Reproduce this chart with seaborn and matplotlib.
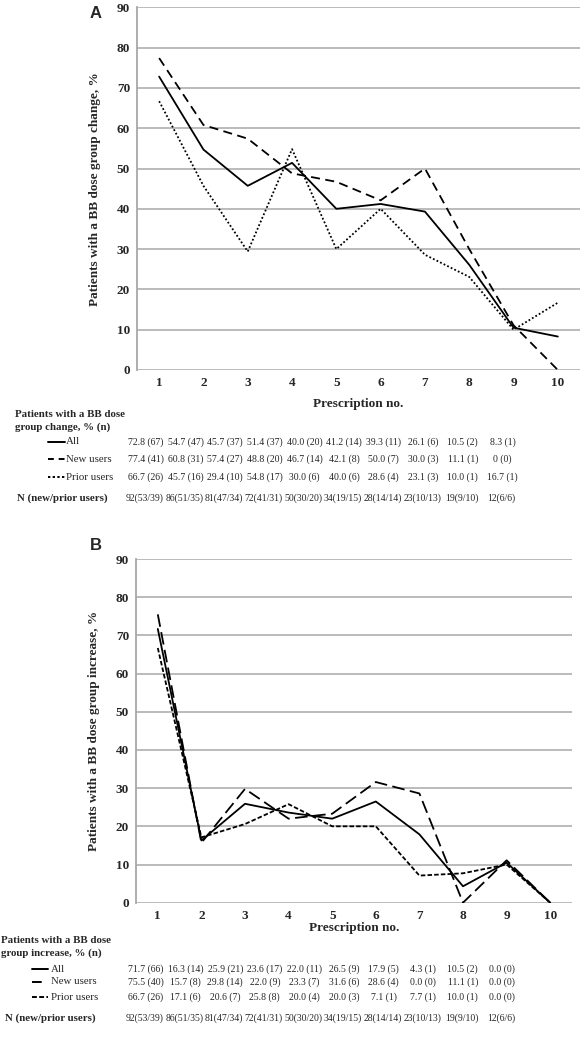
import matplotlib
matplotlib.use("Agg")
import matplotlib.pyplot as plt
from matplotlib.lines import Line2D
import pandas as pd
import seaborn as sns

# prescription numbers
rx = list(range(1, 11))
groups = ["All", "New users", "Prior users"]

# panel A: BB dose group change, %
a_all = [72.8, 54.7, 45.7, 51.4, 40.0, 41.2, 39.3, 26.1, 10.5, 8.3]
a_new = [77.4, 60.8, 57.4, 48.8, 46.7, 42.1, 50.0, 30.0, 11.1, 0.0]
a_prior = [66.7, 45.7, 29.4, 54.8, 30.0, 40.0, 28.6, 23.1, 10.0, 16.7]

# panel B: BB dose group increase, %
b_all = [71.7, 16.3, 25.9, 23.6, 22.0, 26.5, 17.9, 4.3, 10.5, 0.0]
b_new = [75.5, 15.7, 29.8, 22.0, 23.3, 31.6, 28.6, 0.0, 11.1, 0.0]
b_prior = [66.7, 17.1, 20.6, 25.8, 20.0, 20.0, 7.1, 7.7, 10.0, 0.0]

# table texts below each panel
a_all_txt = ["72.8 (67)", "54.7 (47)", "45.7 (37)", "51.4 (37)", "40.0 (20)",
             "41.2 (14)", "39.3 (11)", "26.1 (6)", "10.5 (2)", "8.3 (1)"]
a_new_txt = ["77.4 (41)", "60.8 (31)", "57.4 (27)", "48.8 (20)", "46.7 (14)",
             "42.1 (8)", "50.0 (7)", "30.0 (3)", "11.1 (1)", "0 (0)"]
a_prior_txt = ["66.7 (26)", "45.7 (16)", "29.4 (10)", "54.8 (17)", "30.0 (6)",
               "40.0 (6)", "28.6 (4)", "23.1 (3)", "10.0 (1)", "16.7 (1)"]
b_all_txt = ["71.7 (66)", "16.3 (14)", "25.9 (21)", "23.6 (17)", "22.0 (11)",
             "26.5 (9)", "17.9 (5)", "4.3 (1)", "10.5 (2)", "0.0 (0)"]
b_new_txt = ["75.5 (40)", "15.7 (8)", "29.8 (14)", "22.0 (9)", "23.3 (7)",
             "31.6 (6)", "28.6 (4)", "0.0 (0)", "11.1 (1)", "0.0 (0)"]
b_prior_txt = ["66.7 (26)", "17.1 (6)", "20.6 (7)", "25.8 (8)", "20.0 (4)",
               "20.0 (3)", "7.1 (1)", "7.7 (1)", "10.0 (1)", "0.0 (0)"]
n_txt = ["92(53/39)", "86(51/35)", "81(47/34)", "72(41/31)", "50(30/20)",
         "34(19/15)", "28(14/14)", "23(10/13)", "19(9/10)", "12(6/6)"]

W, H = 583, 1039
SERIF = ["Liberation Serif", "DejaVu Serif"]

sns.set_style("white")
plt.rcParams["font.family"] = SERIF
plt.rcParams["font.weight"] = "bold"


def fx(px):
    return px / W


def fy(py):
    return 1 - py / H


def draw_panel(ax, all_v, new_v, prior_v, dashes, ylabel, xlab_y, ylab_x):
    df = pd.DataFrame({
        "rx": rx * 3,
        "pct": all_v + new_v + prior_v,
        "group": [g for g in groups for _ in rx],
    })
    sns.lineplot(data=df, x="rx", y="pct", style="group", dashes=dashes,
                 color="black", lw=1.3, legend=False, ax=ax, zorder=3)
    ax.set_xlim(0.5, 10.5)
    ax.set_ylim(0, 90)
    ax.set_xticks(rx)
    ax.set_yticks(range(0, 91, 10))
    ax.grid(axis="y", color="#a8a8a8", lw=1.1)
    ax.grid(axis="x", visible=False)
    for s in ["top", "right", "bottom"]:
        ax.spines[s].set_visible(False)
    ax.spines["left"].set_color("#a8a8a8")
    ax.spines["left"].set_linewidth(1.3)
    ax.tick_params(length=0, labelsize=9.5)
    ax.tick_params(axis="x", pad=5)
    ax.tick_params(axis="y", pad=5)
    ax.set_xlabel("Prescription no.", fontsize=9.5, fontweight="bold")
    ax.set_ylabel(ylabel, fontsize=9.5, fontweight="bold")
    ax.xaxis.set_label_coords(0.5, xlab_y)
    ax.yaxis.set_label_coords(ylab_x, 0.5)


def draw_table(fig, title, title_x, title_y, rows, n_y, n_x, sample_x, text_x):
    fig.text(fx(title_x), fy(title_y), title, fontsize=7.8, fontweight="bold",
             va="center", ha="left", linespacing=1.45)
    for label, dash, txts, ry in rows:
        line = Line2D([fx(sample_x[0]), fx(sample_x[1])], [fy(ry), fy(ry)],
                      transform=fig.transFigure, color="black", lw=1.4)
        if dash is not None:
            line.set_dashes(dash)
        fig.add_artist(line)
        fig.text(fx(text_x), fy(ry), label, fontsize=7.8, fontweight="normal",
                 va="center", ha="left")
        for i, t in enumerate(txts):
            fig.text(fx(146 + 39.6 * i), fy(ry), t, fontsize=7, fontweight="normal",
                     va="center", ha="center")
    fig.text(fx(n_x), fy(n_y), "N (new/prior users)", fontsize=7.8,
             fontweight="bold", va="center", ha="left")
    for i, t in enumerate(n_txt):
        fig.text(fx(145 + 39.6 * i), fy(n_y), t, fontsize=7, fontweight="normal",
                 va="center", ha="center")


fig = plt.figure(figsize=(W / 100, H / 100), dpi=100)

# panel A
axA = fig.add_axes([fx(137), fy(370), fx(580) - fx(137), (370 - 7.3) / H])
draw_panel(axA, a_all, a_new, a_prior,
           {"All": "", "New users": (5, 3), "Prior users": (1, 1.2)},
           "Patients with a BB dose group change, %", -0.077, -0.082)
fig.text(fx(96), fy(13), "A", fontsize=12, fontweight="bold",
         family=["Liberation Sans", "DejaVu Sans"], ha="center", va="center")
draw_table(fig, "Patients with a BB dose\ngroup change, % (n)", 15, 421,
           [("All", None, a_all_txt, 442),
            ("New users", (3, 2.5), a_new_txt, 459),
            ("Prior users", (1.2, 1.2), a_prior_txt, 477)],
           498, 17, (48, 65), 66)

# panel B
axB = fig.add_axes([fx(136), fy(902.7), fx(572) - fx(136), (902.7 - 559) / H])
draw_panel(axB, b_all, b_new, b_prior,
           {"All": "", "New users": (7, 3), "Prior users": (2.5, 1.2)},
           "Patients with a BB dose group increase, %", -0.056, -0.082)
fig.text(fx(96), fy(546), "B", fontsize=12, fontweight="bold",
         family=["Liberation Sans", "DejaVu Sans"], ha="center", va="center")
draw_table(fig, "Patients with a BB dose\ngroup increase, % (n)", 1, 947,
           [("All", None, b_all_txt, 969),
            ("New users", (5, 100), b_new_txt, 982),
            ("Prior users", (2.5, 1.2), b_prior_txt, 997)],
           1018, 5, (32, 48), 51)

fig.savefig("out.png", dpi=100)
